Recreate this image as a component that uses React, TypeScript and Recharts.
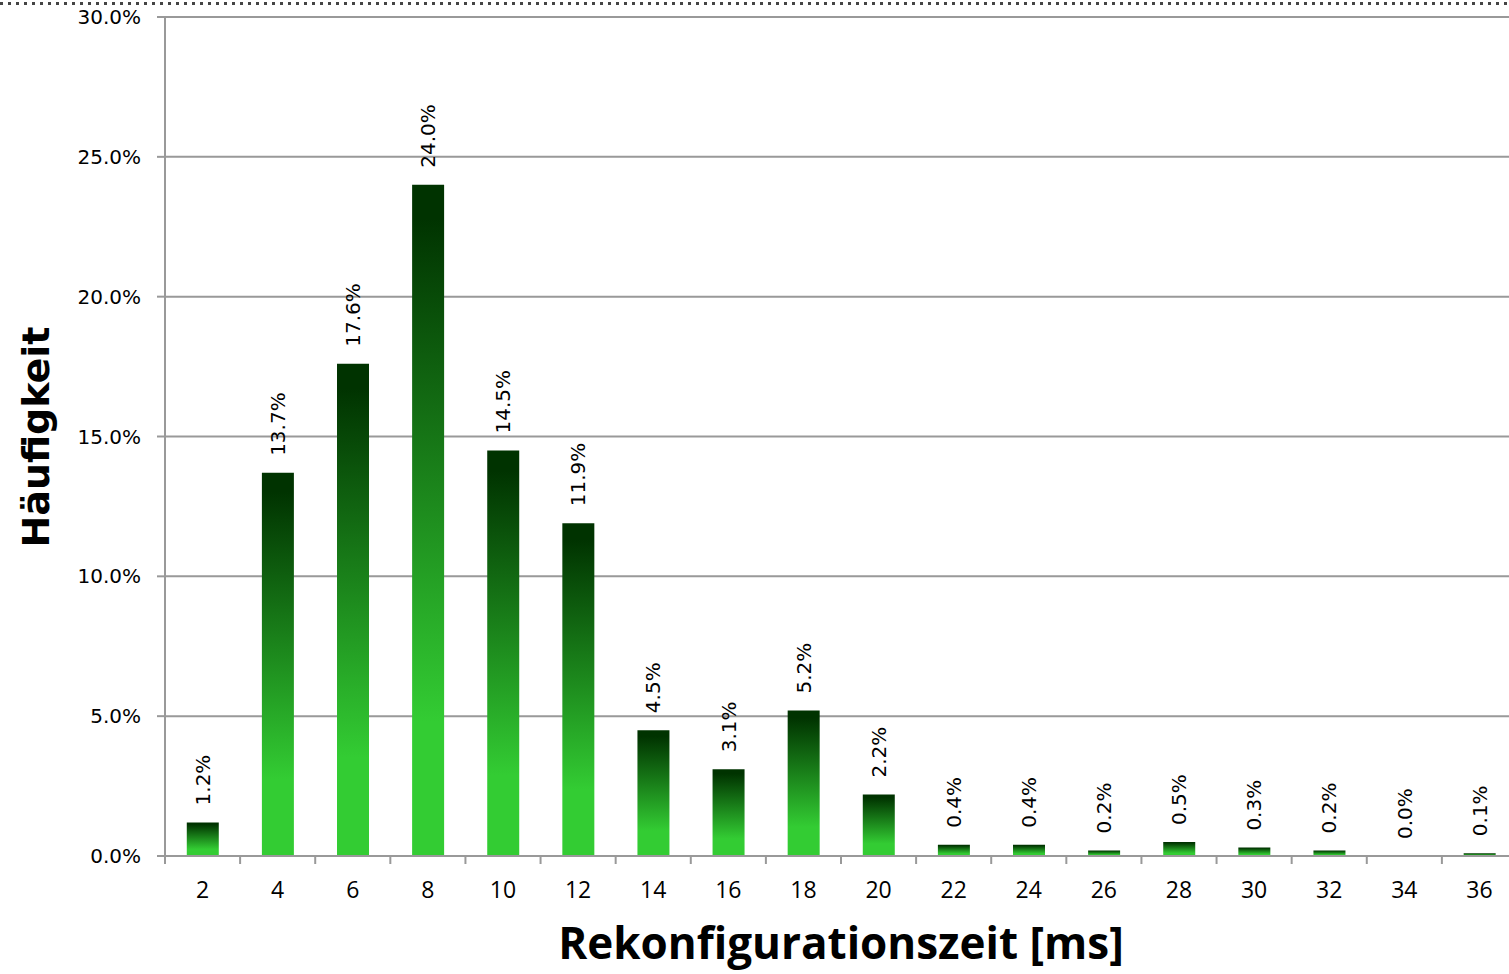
import React from "react";
import {
  BarChart,
  Bar,
  XAxis,
  YAxis,
  CartesianGrid,
  LabelList,
  Label,
} from "recharts";

const categories = ["2", "4", "6", "8", "10", "12", "14", "16", "18", "20", "22", "24", "26", "28", "30", "32", "34", "36"];
const shares = [1.2, 13.7, 17.6, 24.0, 14.5, 11.9, 4.5, 3.1, 5.2, 2.2, 0.4, 0.4, 0.2, 0.5, 0.3, 0.2, 0.0, 0.1];
const yTicks = [0, 5, 10, 15, 20, 25, 30];

const data = categories.map((c, i) => ({ zeit: c, anteil: shares[i] }));

const W = 1509;
const H = 974;
const PLOT_LEFT = 165;
const OVERHANG = 8; // plot area runs a little past the right edge of the picture
const BAND = (W + OVERHANG - PLOT_LEFT) / categories.length;
const AXIS_GRAY = "#999999";

function XTick(props: any) {
  const { x, y, payload, index } = props;
  const left = x - BAND / 2;
  const isLast = index === categories.length - 1;
  return (
    <g>
      <line x1={left} x2={left} y1={y - 8} y2={y} stroke={AXIS_GRAY} strokeWidth={2} />
      {isLast && (
        <line x1={x + BAND / 2} x2={x + BAND / 2} y1={y - 8} y2={y} stroke={AXIS_GRAY} strokeWidth={2} />
      )}
      <text x={x} y={y + 34} textAnchor="middle" fontSize={23} fontFamily="'Open Sans', sans-serif" fill="#000">
        {payload.value}
      </text>
    </g>
  );
}

function BarValue(props: any) {
  const { x, y, width, value } = props;
  const cx = x + width / 2;
  return (
    <text
      transform={`translate(${cx},${y - 17}) rotate(-90)`}
      x={0}
      y={7}
      textAnchor="start"
      fontSize={20}
      fontFamily="'DejaVu Sans', sans-serif"
      fill="#000"
    >
      {`${Number(value).toFixed(1)}%`}
    </text>
  );
}

export default function App() {
  return (
    <div style={{ position: "absolute", top: 0, left: 0, width: W, height: H, background: "#fff", overflow: "hidden" }}>
      <div
        style={{
          position: "absolute",
          top: 2,
          left: 0,
          width: W,
          height: 3,
          backgroundImage: "repeating-linear-gradient(to right, #444 0 3px, transparent 3px 8px)",
        }}
      />
      <BarChart
        width={W}
        height={H}
        data={data}
        margin={{ top: 17, right: -OVERHANG, left: 0, bottom: 0 }}
        barCategoryGap="29%"
        style={{ overflow: "hidden" }}
      >
        <defs>
          <linearGradient id="gruen" x1="0" y1="0" x2="0" y2="1">
            <stop offset="0%" stopColor="#003300" />
            <stop offset="5%" stopColor="#003300" />
            <stop offset="80%" stopColor="#33cc33" />
            <stop offset="100%" stopColor="#33cc33" />
          </linearGradient>
        </defs>
        <CartesianGrid vertical={false} stroke={AXIS_GRAY} strokeWidth={2} />
        <XAxis
          dataKey="zeit"
          height={118}
          axisLine={{ stroke: AXIS_GRAY, strokeWidth: 2 }}
          tickLine={false}
          tick={<XTick />}
          interval={0}
        >
          <Label
            content={() => (
              <text
                x={841}
                y={959}
                textAnchor="middle"
                fontSize={44}
                fontWeight={700}
                fontFamily="'Open Sans', sans-serif"
                fill="#000"
              >
                Rekonfigurationszeit [ms]
              </text>
            )}
          />
        </XAxis>
        <YAxis
          width={PLOT_LEFT}
          domain={[0, 30]}
          ticks={yTicks}
          interval={0}
          axisLine={{ stroke: AXIS_GRAY, strokeWidth: 2 }}
          tickLine={{ stroke: AXIS_GRAY, strokeWidth: 2 }}
          tickSize={8}
          tickMargin={16}
          tickFormatter={(v) => `${Number(v).toFixed(1)}%`}
          tick={{ fontSize: 20, fontFamily: "'DejaVu Sans', sans-serif", fill: "#000" }}
        >
          <Label
            content={() => (
              <text
                transform="translate(36,437) rotate(-90)"
                textAnchor="middle"
                dominantBaseline="central"
                fontSize={38}
                fontWeight={700}
                fontFamily="'DejaVu Sans', sans-serif"
                fill="#000"
              >
                Häufigkeit
              </text>
            )}
          />
        </YAxis>
        <Bar dataKey="anteil" fill="url(#gruen)" minPointSize={0.01} isAnimationActive={false}>
          <LabelList dataKey="anteil" content={<BarValue />} />
        </Bar>
      </BarChart>
    </div>
  );
}
